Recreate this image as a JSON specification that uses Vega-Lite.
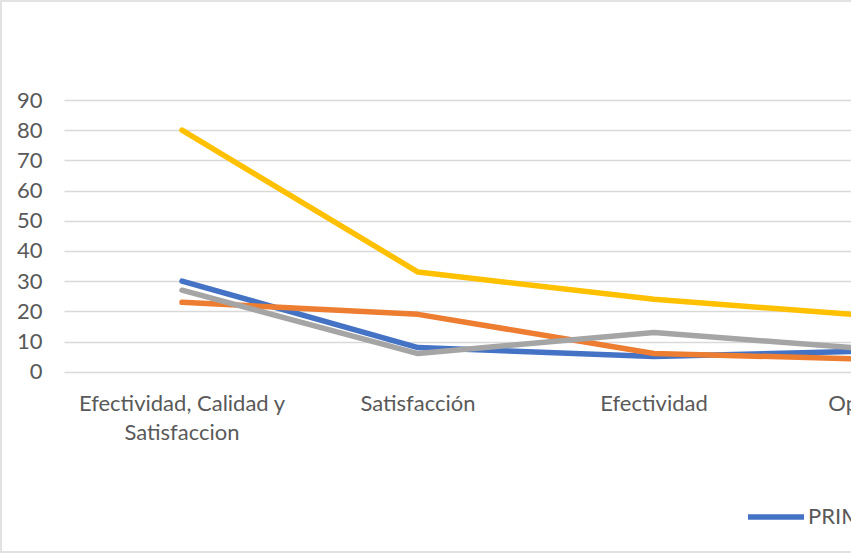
{
  "$schema": "https://vega.github.io/schema/vega-lite/v6.json",
  "width": 851,
  "height": 551,
  "autosize": {"type": "none"},
  "padding": {"left": 1, "top": 1, "right": -1, "bottom": 1},
  "background": "white",
  "config": {
    "view": {"stroke": "#d9d9d9", "strokeWidth": 1.5},
    "font": "Lato"
  },
  "data": {
    "values": [
      {"categoria": "Efectividad, Calidad y Satisfaccion", "serie": "PRIMERO", "valor": 30},
      {"categoria": "Satisfacción", "serie": "PRIMERO", "valor": 8},
      {"categoria": "Efectividad", "serie": "PRIMERO", "valor": 5},
      {"categoria": "Oportunidad", "serie": "PRIMERO", "valor": 7},
      {"categoria": "Efectividad, Calidad y Satisfaccion", "serie": "SEGUNDO", "valor": 23},
      {"categoria": "Satisfacción", "serie": "SEGUNDO", "valor": 19},
      {"categoria": "Efectividad", "serie": "SEGUNDO", "valor": 6},
      {"categoria": "Oportunidad", "serie": "SEGUNDO", "valor": 4},
      {"categoria": "Efectividad, Calidad y Satisfaccion", "serie": "TERCERO", "valor": 27},
      {"categoria": "Satisfacción", "serie": "TERCERO", "valor": 6},
      {"categoria": "Efectividad", "serie": "TERCERO", "valor": 13},
      {"categoria": "Oportunidad", "serie": "TERCERO", "valor": 7},
      {"categoria": "Efectividad, Calidad y Satisfaccion", "serie": "CUARTO", "valor": 80},
      {"categoria": "Satisfacción", "serie": "CUARTO", "valor": 33},
      {"categoria": "Efectividad", "serie": "CUARTO", "valor": 24},
      {"categoria": "Oportunidad", "serie": "CUARTO", "valor": 18}
    ]
  },
  "mark": {"type": "line", "strokeWidth": 5.5, "strokeCap": "round", "strokeJoin": "round"},
  "encoding": {
    "x": {
      "field": "categoria",
      "type": "nominal",
      "sort": ["Efectividad, Calidad y Satisfaccion", "Satisfacción", "Efectividad", "Oportunidad"],
      "scale": {"type": "band", "range": [63, 1007], "paddingInner": 0, "paddingOuter": 0},
      "axis": {
        "title": null,
        "orient": "bottom",
        "offset": -180,
        "domain": false,
        "ticks": false,
        "tickSize": 0,
        "grid": false,
        "labelPadding": 21,
        "labelFont": "Lato",
        "labelFontSize": 22,
        "labelColor": "#595959",
        "labelAngle": 0,
        "labelAlign": "center",
        "labelBaseline": "top",
        "labelLimit": 0,
        "labelOverlap": false,
        "labelLineHeight": 29,
        "labelExpr": "datum.label == 'Efectividad, Calidad y Satisfaccion' ? ['Efectividad, Calidad y', 'Satisfaccion'] : datum.label"
      }
    },
    "y": {
      "field": "valor",
      "type": "quantitative",
      "scale": {"domain": [0, 90], "range": [370.7, 99], "nice": false},
      "axis": {
        "title": null,
        "offset": -62,
        "domain": false,
        "ticks": false,
        "tickSize": 0,
        "labelPadding": 21,
        "values": [0, 10, 20, 30, 40, 50, 60, 70, 80, 90],
        "grid": true,
        "gridColor": "#d9d9d9",
        "gridWidth": 1.5,
        "labelFont": "Lato",
        "labelFontSize": 22,
        "labelColor": "#595959"
      }
    },
    "color": {
      "field": "serie",
      "type": "nominal",
      "sort": ["PRIMERO", "SEGUNDO", "TERCERO", "CUARTO"],
      "scale": {
        "domain": ["PRIMERO", "SEGUNDO", "TERCERO", "CUARTO"],
        "range": ["#4472c4", "#ed7d31", "#a5a5a5", "#ffc000"]
      },
      "legend": {
        "title": null,
        "orient": "none",
        "legendX": 744,
        "legendY": 485,
        "direction": "horizontal",
        "padding": 0,
        "symbolType": "stroke",
        "symbolSize": 3136,
        "symbolStrokeWidth": 5.5,
        "labelOffset": 1,
        "columnPadding": 20,
        "labelFont": "Lato",
        "labelFontSize": 22,
        "labelColor": "#595959"
      }
    }
  }
}
